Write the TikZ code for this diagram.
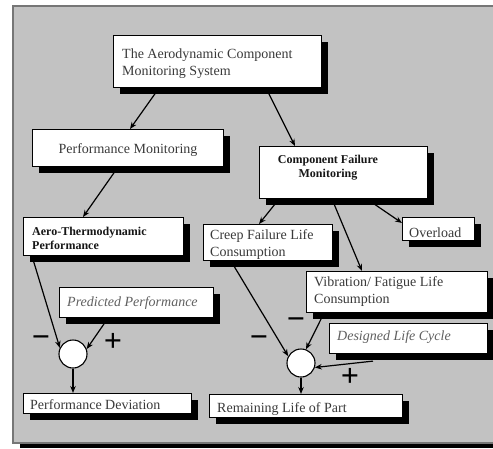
\documentclass[tikz,border=0pt]{standalone}
\usepackage{fontspec}
\setmainfont{Liberation Serif}
\usetikzlibrary{arrows.meta,calc,shadows}
\pgfdeclarelayer{bg}
\pgfsetlayers{bg,main}
\definecolor{panel}{RGB}{194,194,194}
\definecolor{rim}{RGB}{118,118,118}
\definecolor{ink}{RGB}{58,58,58}
\definecolor{softink}{RGB}{96,96,96}
\definecolor{boldink}{RGB}{22,22,22}

\begin{document}
\begin{tikzpicture}[x=1pt,y=-1pt,
  card/.style={draw=black, line width=1.1pt, fill=white, inner sep=0pt,
    anchor=north west,
    general shadow={fill=black, shadow xshift=6.5pt, shadow yshift=-6.5pt}},
  txt/.style={font=\fontsize{14}{16.5}\selectfont, text=ink, inner sep=0pt, align=left},
  btxt/.style={font=\fontsize{12}{14}\selectfont\bfseries, text=boldink, inner sep=0pt},
  itxt/.style={font=\fontsize{14}{16.5}\selectfont\itshape, text=softink, inner sep=0pt},
  sumnode/.style={circle, draw=black, line width=1.1pt, fill=white,
    minimum size=28pt, inner sep=0pt},
  sign/.style={font=\fontsize{32}{32}\selectfont\bfseries, text=black, inner sep=0pt},
  link/.style={line width=1.2pt, draw=black,
    -{Stealth[length=7pt,width=5.5pt]}}
]
\useasboundingbox (0,0) rectangle (493,448);

% outer panel with its shadow
\begin{pgfonlayer}{bg}
  \fill[black] (20,441) rectangle (500,448);
  \filldraw[fill=panel, draw=rim, line width=1.3pt] (13,6) rectangle (500,443);
\end{pgfonlayer}

% boxes
\node[card, minimum width=208pt, minimum height=52pt] (b1) at (113,35) {};
\node[card, minimum width=191pt, minimum height=37pt] (b2) at (32,129) {};
\node[card, minimum width=168pt, minimum height=52pt] (b3) at (259,146) {};
\node[card, minimum width=160pt, minimum height=38pt] (b4) at (23,217) {};
\node[card, minimum width=129pt, minimum height=36pt] (b5) at (203,224) {};
\node[card, minimum width=72pt, minimum height=23pt] (b6) at (402,217) {};
\node[card, minimum width=181pt, minimum height=41pt] (b7) at (306,271) {};
\node[card, minimum width=154pt, minimum height=30pt] (b8) at (59,287) {};
\node[card, minimum width=158pt, minimum height=30pt] (b9) at (329,323) {};
\node[card, minimum width=168pt, minimum height=20pt] (b10) at (23,393) {};
\node[card, minimum width=193pt, minimum height=23pt] (b11) at (209,394) {};

% box texts (multi-line ones are placed by the baseline of their last line)
\node[txt, anchor=base west] (t1) at (122,75) {The Aerodynamic Component\\Monitoring System};
\node[txt, anchor=base] (t2) at (128,153) {Performance Monitoring};
\node[btxt, align=center, anchor=base] (t3) at (328,177) {Component Failure\\Monitoring};
\node[btxt, align=left, anchor=base west] (t4) at (32,249) {Aero-Thermodynamic\\Performance};
\node[txt, anchor=base west] (t5) at (210,256) {Creep Failure Life\\Consumption};
\node[txt, anchor=base west] (t6) at (409,237) {Overload};
\node[txt, anchor=base west] (t7) at (314,303) {Vibration/ Fatigue Life\\Consumption};
\node[itxt, anchor=base west] (t8) at (67,306) {Predicted Performance};
\node[itxt, anchor=base west] (t9) at (337,340) {Designed Life Cycle};
\node[txt, anchor=base west] (t10) at (30,409) {Performance Deviation};
\node[txt, anchor=base west] (t11) at (217,412) {Remaining Life of Part};

% summing junctions
\node[sumnode] (c1) at (73,354) {};
\node[sumnode] (c2) at (301,363) {};

% signs at the junctions
\node[sign] (m1) at (41,342) {−};
\node[sign] (p1) at (113,342) {+};
\node[sign] (m2) at (259,342) {−};
\node[sign] (m3) at (296,324) {−};
\node[sign] (p2) at (350,377) {+};

% connectors
\begin{pgfonlayer}{bg}
  \draw[link] ($(b1.south west)+(46,0)$) -- ($(b2.north west)+(98,0)$);
  \draw[link] ($(b1.south west)+(153,0)$) -- ($(b3.north west)+(36,0)$);
  \draw[link] ($(b2.south west)+(86,0)$) -- ($(b4.north west)+(60,0)$);
  \draw[link] ($(b3.south west)+(20,0)$) -- ($(b5.north west)+(56,0)$);
  \draw[link] ($(b3.south west)+(73,0)$) -- ($(b7.north west)+(56,0)$);
  \draw[link] ($(b3.south west)+(108,0)$) -- ($(b6.north west)+(0,6)$);
  \draw[link] ($(b4.south west)+(9,0)$) -- (c1.155);
  \draw[link] ($(b8.south west)+(49,0)$) -- (c1.20);
  \draw[link] (c1.south) -- (c1.south |- b10.north);
  \draw[link] ($(b5.south west)+(28,0)$) -- (c2.152);
  \draw[link] ($(b7.south west)+(18,0)$) -- (c2.70);
  \draw[link] ($(b9.south west)+(44,7)$) -- (c2.-18);
  \draw[link] (c2.south) -- (c2.south |- b11.north);
\end{pgfonlayer}
\end{tikzpicture}
\end{document}
